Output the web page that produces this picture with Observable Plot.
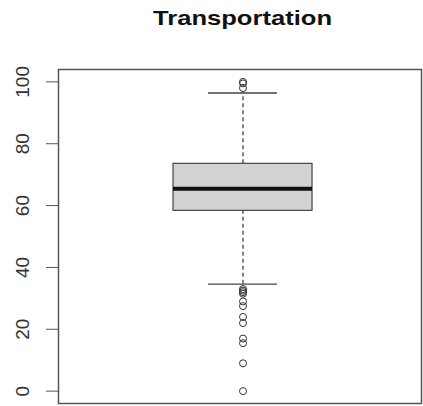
<!DOCTYPE html>
<html>
<head>
<meta charset="utf-8">
<script src="https://cdn.jsdelivr.net/npm/d3@7"></script>
<script src="https://cdn.jsdelivr.net/npm/@observablehq/plot@0.6"></script>
<style>
  html, body { margin: 0; padding: 0; background: #fff; }
  #title { display: block; }
</style>
</head>
<body>
<svg id="title" width="423" height="40">
  <text x="242.5" y="25" text-anchor="middle" font-family="Liberation Sans, Arial, sans-serif"
        font-size="21" font-weight="bold" fill="#111" textLength="179" lengthAdjust="spacingAndGlyphs">Transportation</text>
</svg>
<div id="chart"></div>
<script>
// Five-number summary of the Transportation scores
const statNames = ["whiskerLow", "q1", "median", "q3", "whiskerHigh"];
const statValues = [34.6, 58.3, 65.4, 73.5, 96.4];

// Points beyond the whiskers
const outliers = [100, 99.5, 98, 33, 32.5, 32, 31.5, 29, 27.5, 24, 22, 17, 15.5, 9, 0];

// Axis ticks
const yTicks = [0, 20, 40, 60, 80, 100];

const box = Object.fromEntries(statNames.map((k, i) => [k, statValues[i]]));
box.pos = 1;
const boxes = [box];
const outlierRows = outliers.map(v => ({pos: 1, value: v}));

const halfBox = 0.1915;
const halfCap = 0.095;

const chart = Plot.plot({
  width: 423,
  height: 366,
  marginLeft: 58,
  marginRight: 2,
  marginTop: 29,
  marginBottom: 3,
  style: {fontFamily: "Liberation Sans, Arial, sans-serif", background: "#fff"},
  x: {domain: [0.4917, 1.4917], axis: null},
  y: {domain: [-4, 104]},
  marks: [
    // dashed whiskers
    Plot.ruleX(boxes, {x: "pos", y1: "q3", y2: "whiskerHigh", stroke: "#333", strokeWidth: 1.2, strokeDasharray: "4,3"}),
    Plot.ruleX(boxes, {x: "pos", y1: "whiskerLow", y2: "q1", stroke: "#333", strokeWidth: 1.2, strokeDasharray: "4,3"}),
    // whisker caps
    Plot.ruleY(boxes, {y: "whiskerHigh", x1: d => d.pos - halfCap, x2: d => d.pos + halfCap, stroke: "#444", strokeWidth: 1.3}),
    Plot.ruleY(boxes, {y: "whiskerLow", x1: d => d.pos - halfCap, x2: d => d.pos + halfCap, stroke: "#444", strokeWidth: 1.3}),
    // interquartile box
    Plot.rect(boxes, {x1: d => d.pos - halfBox, x2: d => d.pos + halfBox, y1: "q1", y2: "q3", fill: "#d3d3d3", stroke: "#444", strokeWidth: 1.2}),
    // median
    Plot.ruleY(boxes, {y: "median", x1: d => d.pos - halfBox, x2: d => d.pos + halfBox, stroke: "#111", strokeWidth: 4}),
    // outliers
    Plot.dot(outlierRows, {x: "pos", y: "value", r: 3.5, stroke: "#333", strokeWidth: 1, fill: "none"}),
    // y axis ticks and rotated labels
    Plot.axisY({ticks: yTicks, tickSize: 12, tickFormat: () => "", stroke: "#555", label: null}),
    Plot.text(yTicks, {y: d => d, text: d => String(d), frameAnchor: "left", dx: -30, rotate: -90,
      textAnchor: "middle", lineAnchor: "bottom", fontSize: 19, fill: "#333"}),
    Plot.frame({stroke: "#555", strokeWidth: 1.5})
  ]
});
document.getElementById("chart").appendChild(chart);
</script>
</body>
</html>
